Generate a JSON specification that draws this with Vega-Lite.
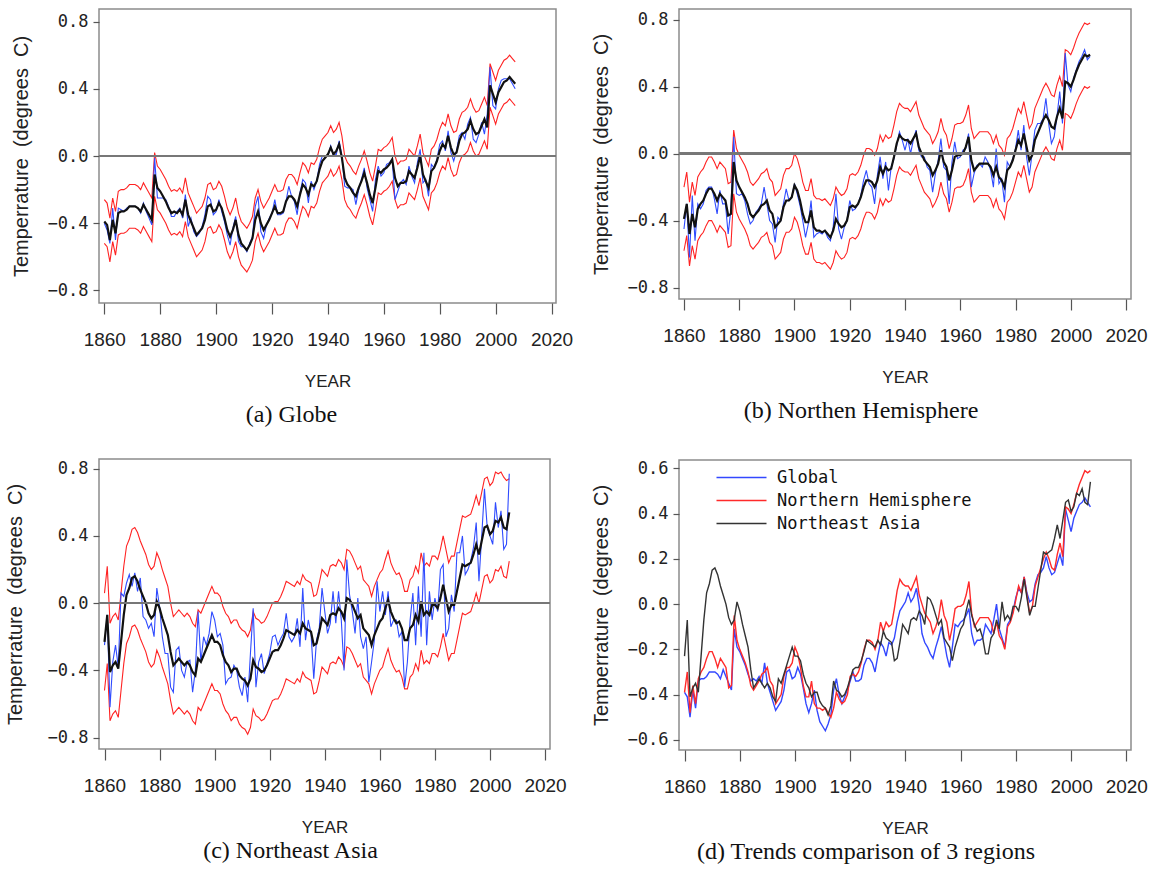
{
"$schema": "https://vega.github.io/schema/vega-lite/v6.json",
"background": "white",
"padding": {"left": 4, "top": 8, "right": 5, "bottom": 5},
"config": {
 "view": {"stroke": "#8c8c8c", "strokeWidth": 1.5},
 "font": "Liberation Sans",
 "axis": {"grid": false, "domain": false, "tickColor": "#555", "tickWidth": 1.2, "labelColor": "#222", "titleColor": "#222", "titleFontWeight": "normal", "labelOverlap": false, "labelFlush": false},
 "axisX": {"labelFont": "Liberation Sans", "labelFontSize": 19, "labelPadding": 16, "titleFont": "Liberation Sans Narrow, Liberation Sans", "titleFontSize": 17, "titlePadding": 24},
 "axisY": {"labelFont": "DejaVu Sans Mono", "labelFontSize": 17, "labelPadding": 5, "titleFont": "Liberation Sans", "titleFontSize": 20, "titlePadding": 16},
 "title": {"orient": "bottom", "font": "Liberation Serif", "fontSize": 24, "fontWeight": "normal", "color": "#111", "anchor": "middle", "frame": "group"}
},
"datasets": {
"a": [
{"year":1860,"obs":-0.40,"fit":-0.39,"hi":-0.26,"lo":-0.52},
{"year":1861,"obs":-0.44,"fit":-0.41,"hi":-0.28,"lo":-0.54},
{"year":1862,"obs":-0.52,"fit":-0.50,"hi":-0.37,"lo":-0.63},
{"year":1863,"obs":-0.31,"fit":-0.38,"hi":-0.25,"lo":-0.51},
{"year":1864,"obs":-0.50,"fit":-0.46,"hi":-0.33,"lo":-0.59},
{"year":1865,"obs":-0.31,"fit":-0.34,"hi":-0.21,"lo":-0.47},
{"year":1866,"obs":-0.32,"fit":-0.33,"hi":-0.20,"lo":-0.46},
{"year":1867,"obs":-0.33,"fit":-0.33,"hi":-0.20,"lo":-0.46},
{"year":1868,"obs":-0.31,"fit":-0.32,"hi":-0.19,"lo":-0.45},
{"year":1869,"obs":-0.30,"fit":-0.30,"hi":-0.17,"lo":-0.43},
{"year":1870,"obs":-0.30,"fit":-0.30,"hi":-0.17,"lo":-0.43},
{"year":1871,"obs":-0.30,"fit":-0.30,"hi":-0.17,"lo":-0.43},
{"year":1872,"obs":-0.31,"fit":-0.31,"hi":-0.18,"lo":-0.44},
{"year":1873,"obs":-0.34,"fit":-0.33,"hi":-0.20,"lo":-0.46},
{"year":1874,"obs":-0.28,"fit":-0.29,"hi":-0.16,"lo":-0.42},
{"year":1875,"obs":-0.33,"fit":-0.32,"hi":-0.19,"lo":-0.45},
{"year":1876,"obs":-0.37,"fit":-0.35,"hi":-0.22,"lo":-0.48},
{"year":1877,"obs":-0.41,"fit":-0.38,"hi":-0.25,"lo":-0.51},
{"year":1878,"obs":-0.01,"fit":-0.11,"hi":0.02,"lo":-0.24},
{"year":1879,"obs":-0.25,"fit":-0.19,"hi":-0.06,"lo":-0.32},
{"year":1880,"obs":-0.25,"fit":-0.21,"hi":-0.08,"lo":-0.34},
{"year":1881,"obs":-0.25,"fit":-0.24,"hi":-0.11,"lo":-0.37},
{"year":1882,"obs":-0.26,"fit":-0.27,"hi":-0.14,"lo":-0.40},
{"year":1883,"obs":-0.30,"fit":-0.31,"hi":-0.18,"lo":-0.44},
{"year":1884,"obs":-0.36,"fit":-0.34,"hi":-0.21,"lo":-0.47},
{"year":1885,"obs":-0.36,"fit":-0.33,"hi":-0.20,"lo":-0.46},
{"year":1886,"obs":-0.33,"fit":-0.34,"hi":-0.21,"lo":-0.47},
{"year":1887,"obs":-0.31,"fit":-0.32,"hi":-0.19,"lo":-0.45},
{"year":1888,"obs":-0.37,"fit":-0.35,"hi":-0.22,"lo":-0.48},
{"year":1889,"obs":-0.23,"fit":-0.26,"hi":-0.13,"lo":-0.39},
{"year":1890,"obs":-0.42,"fit":-0.35,"hi":-0.22,"lo":-0.48},
{"year":1891,"obs":-0.37,"fit":-0.39,"hi":-0.26,"lo":-0.52},
{"year":1892,"obs":-0.45,"fit":-0.43,"hi":-0.30,"lo":-0.56},
{"year":1893,"obs":-0.48,"fit":-0.47,"hi":-0.34,"lo":-0.60},
{"year":1894,"obs":-0.46,"fit":-0.45,"hi":-0.32,"lo":-0.58},
{"year":1895,"obs":-0.42,"fit":-0.43,"hi":-0.30,"lo":-0.56},
{"year":1896,"obs":-0.35,"fit":-0.38,"hi":-0.25,"lo":-0.51},
{"year":1897,"obs":-0.24,"fit":-0.30,"hi":-0.17,"lo":-0.43},
{"year":1898,"obs":-0.26,"fit":-0.29,"hi":-0.16,"lo":-0.42},
{"year":1899,"obs":-0.35,"fit":-0.33,"hi":-0.20,"lo":-0.46},
{"year":1900,"obs":-0.33,"fit":-0.32,"hi":-0.19,"lo":-0.45},
{"year":1901,"obs":-0.26,"fit":-0.28,"hi":-0.15,"lo":-0.41},
{"year":1902,"obs":-0.33,"fit":-0.31,"hi":-0.18,"lo":-0.44},
{"year":1903,"obs":-0.39,"fit":-0.37,"hi":-0.24,"lo":-0.50},
{"year":1904,"obs":-0.47,"fit":-0.44,"hi":-0.31,"lo":-0.57},
{"year":1905,"obs":-0.53,"fit":-0.48,"hi":-0.35,"lo":-0.61},
{"year":1906,"obs":-0.43,"fit":-0.44,"hi":-0.31,"lo":-0.57},
{"year":1907,"obs":-0.36,"fit":-0.38,"hi":-0.25,"lo":-0.51},
{"year":1908,"obs":-0.51,"fit":-0.47,"hi":-0.34,"lo":-0.60},
{"year":1909,"obs":-0.54,"fit":-0.52,"hi":-0.39,"lo":-0.65},
{"year":1910,"obs":-0.54,"fit":-0.54,"hi":-0.41,"lo":-0.67},
{"year":1911,"obs":-0.57,"fit":-0.56,"hi":-0.43,"lo":-0.69},
{"year":1912,"obs":-0.52,"fit":-0.53,"hi":-0.40,"lo":-0.66},
{"year":1913,"obs":-0.48,"fit":-0.49,"hi":-0.36,"lo":-0.62},
{"year":1914,"obs":-0.30,"fit":-0.38,"hi":-0.25,"lo":-0.51},
{"year":1915,"obs":-0.24,"fit":-0.33,"hi":-0.20,"lo":-0.46},
{"year":1916,"obs":-0.45,"fit":-0.40,"hi":-0.27,"lo":-0.53},
{"year":1917,"obs":-0.49,"fit":-0.44,"hi":-0.31,"lo":-0.57},
{"year":1918,"obs":-0.41,"fit":-0.41,"hi":-0.28,"lo":-0.54},
{"year":1919,"obs":-0.37,"fit":-0.38,"hi":-0.25,"lo":-0.51},
{"year":1920,"obs":-0.34,"fit":-0.34,"hi":-0.21,"lo":-0.47},
{"year":1921,"obs":-0.26,"fit":-0.30,"hi":-0.17,"lo":-0.43},
{"year":1922,"obs":-0.35,"fit":-0.34,"hi":-0.21,"lo":-0.47},
{"year":1923,"obs":-0.35,"fit":-0.34,"hi":-0.21,"lo":-0.47},
{"year":1924,"obs":-0.34,"fit":-0.33,"hi":-0.20,"lo":-0.46},
{"year":1925,"obs":-0.27,"fit":-0.27,"hi":-0.14,"lo":-0.40},
{"year":1926,"obs":-0.18,"fit":-0.24,"hi":-0.11,"lo":-0.37},
{"year":1927,"obs":-0.24,"fit":-0.24,"hi":-0.11,"lo":-0.37},
{"year":1928,"obs":-0.27,"fit":-0.26,"hi":-0.13,"lo":-0.39},
{"year":1929,"obs":-0.35,"fit":-0.30,"hi":-0.17,"lo":-0.43},
{"year":1930,"obs":-0.22,"fit":-0.23,"hi":-0.10,"lo":-0.36},
{"year":1931,"obs":-0.14,"fit":-0.17,"hi":-0.04,"lo":-0.30},
{"year":1932,"obs":-0.16,"fit":-0.19,"hi":-0.06,"lo":-0.32},
{"year":1933,"obs":-0.28,"fit":-0.23,"hi":-0.10,"lo":-0.36},
{"year":1934,"obs":-0.15,"fit":-0.17,"hi":-0.04,"lo":-0.30},
{"year":1935,"obs":-0.20,"fit":-0.18,"hi":-0.05,"lo":-0.31},
{"year":1936,"obs":-0.15,"fit":-0.15,"hi":-0.02,"lo":-0.28},
{"year":1937,"obs":-0.05,"fit":-0.08,"hi":0.05,"lo":-0.21},
{"year":1938,"obs":0.00,"fit":-0.03,"hi":0.10,"lo":-0.16},
{"year":1939,"obs":0.00,"fit":-0.01,"hi":0.12,"lo":-0.14},
{"year":1940,"obs":0.00,"fit":0.01,"hi":0.14,"lo":-0.12},
{"year":1941,"obs":0.06,"fit":0.05,"hi":0.18,"lo":-0.08},
{"year":1942,"obs":0.00,"fit":0.01,"hi":0.14,"lo":-0.12},
{"year":1943,"obs":0.01,"fit":0.03,"hi":0.16,"lo":-0.10},
{"year":1944,"obs":0.09,"fit":0.07,"hi":0.20,"lo":-0.06},
{"year":1945,"obs":0.00,"fit":-0.01,"hi":0.12,"lo":-0.14},
{"year":1946,"obs":-0.18,"fit":-0.13,"hi":0.00,"lo":-0.26},
{"year":1947,"obs":-0.19,"fit":-0.17,"hi":-0.04,"lo":-0.30},
{"year":1948,"obs":-0.19,"fit":-0.19,"hi":-0.06,"lo":-0.32},
{"year":1949,"obs":-0.20,"fit":-0.22,"hi":-0.09,"lo":-0.35},
{"year":1950,"obs":-0.29,"fit":-0.24,"hi":-0.11,"lo":-0.37},
{"year":1951,"obs":-0.20,"fit":-0.19,"hi":-0.06,"lo":-0.32},
{"year":1952,"obs":-0.14,"fit":-0.15,"hi":-0.02,"lo":-0.28},
{"year":1953,"obs":-0.07,"fit":-0.10,"hi":0.03,"lo":-0.23},
{"year":1954,"obs":-0.19,"fit":-0.16,"hi":-0.03,"lo":-0.29},
{"year":1955,"obs":-0.26,"fit":-0.23,"hi":-0.10,"lo":-0.36},
{"year":1956,"obs":-0.33,"fit":-0.28,"hi":-0.15,"lo":-0.41},
{"year":1957,"obs":-0.14,"fit":-0.19,"hi":-0.06,"lo":-0.32},
{"year":1958,"obs":-0.06,"fit":-0.09,"hi":0.04,"lo":-0.22},
{"year":1959,"obs":-0.12,"fit":-0.10,"hi":0.03,"lo":-0.23},
{"year":1960,"obs":-0.10,"fit":-0.08,"hi":0.05,"lo":-0.21},
{"year":1961,"obs":-0.05,"fit":-0.07,"hi":0.06,"lo":-0.20},
{"year":1962,"obs":-0.04,"fit":-0.05,"hi":0.08,"lo":-0.18},
{"year":1963,"obs":-0.02,"fit":-0.02,"hi":0.11,"lo":-0.15},
{"year":1964,"obs":-0.26,"fit":-0.13,"hi":0.00,"lo":-0.26},
{"year":1965,"obs":-0.21,"fit":-0.18,"hi":-0.05,"lo":-0.31},
{"year":1966,"obs":-0.16,"fit":-0.16,"hi":-0.03,"lo":-0.29},
{"year":1967,"obs":-0.14,"fit":-0.16,"hi":-0.03,"lo":-0.29},
{"year":1968,"obs":-0.17,"fit":-0.15,"hi":-0.02,"lo":-0.28},
{"year":1969,"obs":-0.06,"fit":-0.09,"hi":0.04,"lo":-0.22},
{"year":1970,"obs":-0.12,"fit":-0.11,"hi":0.02,"lo":-0.24},
{"year":1971,"obs":-0.16,"fit":-0.13,"hi":0.00,"lo":-0.26},
{"year":1972,"obs":-0.04,"fit":-0.07,"hi":0.06,"lo":-0.20},
{"year":1973,"obs":0.04,"fit":0.00,"hi":0.13,"lo":-0.13},
{"year":1974,"obs":-0.16,"fit":-0.11,"hi":0.02,"lo":-0.24},
{"year":1975,"obs":-0.14,"fit":-0.15,"hi":-0.02,"lo":-0.28},
{"year":1976,"obs":-0.24,"fit":-0.19,"hi":-0.06,"lo":-0.32},
{"year":1977,"obs":-0.05,"fit":-0.09,"hi":0.04,"lo":-0.22},
{"year":1978,"obs":-0.07,"fit":-0.07,"hi":0.06,"lo":-0.20},
{"year":1979,"obs":-0.02,"fit":-0.03,"hi":0.10,"lo":-0.16},
{"year":1980,"obs":0.07,"fit":0.03,"hi":0.16,"lo":-0.10},
{"year":1981,"obs":0.09,"fit":0.07,"hi":0.20,"lo":-0.06},
{"year":1982,"obs":0.03,"fit":0.05,"hi":0.18,"lo":-0.08},
{"year":1983,"obs":0.15,"fit":0.12,"hi":0.25,"lo":-0.01},
{"year":1984,"obs":0.02,"fit":0.05,"hi":0.18,"lo":-0.08},
{"year":1985,"obs":-0.03,"fit":0.01,"hi":0.14,"lo":-0.12},
{"year":1986,"obs":0.03,"fit":0.02,"hi":0.15,"lo":-0.11},
{"year":1987,"obs":0.12,"fit":0.09,"hi":0.22,"lo":-0.04},
{"year":1988,"obs":0.14,"fit":0.13,"hi":0.26,"lo":0.00},
{"year":1989,"obs":0.10,"fit":0.14,"hi":0.27,"lo":0.01},
{"year":1990,"obs":0.19,"fit":0.16,"hi":0.29,"lo":0.03},
{"year":1991,"obs":0.23,"fit":0.21,"hi":0.34,"lo":0.08},
{"year":1992,"obs":0.10,"fit":0.16,"hi":0.29,"lo":0.03},
{"year":1993,"obs":0.08,"fit":0.13,"hi":0.26,"lo":0.00},
{"year":1994,"obs":0.13,"fit":0.14,"hi":0.27,"lo":0.01},
{"year":1995,"obs":0.20,"fit":0.18,"hi":0.31,"lo":0.05},
{"year":1996,"obs":0.13,"fit":0.22,"hi":0.35,"lo":0.09},
{"year":1997,"obs":0.25,"fit":0.17,"hi":0.30,"lo":0.04},
{"year":1998,"obs":0.53,"fit":0.42,"hi":0.55,"lo":0.29},
{"year":1999,"obs":0.30,"fit":0.37,"hi":0.50,"lo":0.24},
{"year":2000,"obs":0.28,"fit":0.32,"hi":0.45,"lo":0.19},
{"year":2001,"obs":0.40,"fit":0.38,"hi":0.51,"lo":0.25},
{"year":2002,"obs":0.45,"fit":0.41,"hi":0.54,"lo":0.28},
{"year":2003,"obs":0.46,"fit":0.44,"hi":0.57,"lo":0.31},
{"year":2004,"obs":0.46,"fit":0.45,"hi":0.58,"lo":0.32},
{"year":2005,"obs":0.46,"fit":0.47,"hi":0.60,"lo":0.34},
{"year":2006,"obs":0.43,"fit":0.45,"hi":0.58,"lo":0.32},
{"year":2007,"obs":0.40,"fit":0.43,"hi":0.56,"lo":0.30}
],
"b": [
{"year":1860,"obs":-0.45,"fit":-0.39,"hi":-0.20,"lo":-0.58},
{"year":1861,"obs":-0.30,"fit":-0.30,"hi":-0.11,"lo":-0.49},
{"year":1862,"obs":-0.62,"fit":-0.48,"hi":-0.29,"lo":-0.67},
{"year":1863,"obs":-0.25,"fit":-0.36,"hi":-0.17,"lo":-0.55},
{"year":1864,"obs":-0.52,"fit":-0.44,"hi":-0.25,"lo":-0.63},
{"year":1865,"obs":-0.30,"fit":-0.33,"hi":-0.14,"lo":-0.52},
{"year":1866,"obs":-0.33,"fit":-0.30,"hi":-0.11,"lo":-0.49},
{"year":1867,"obs":-0.30,"fit":-0.28,"hi":-0.09,"lo":-0.47},
{"year":1868,"obs":-0.22,"fit":-0.24,"hi":-0.05,"lo":-0.43},
{"year":1869,"obs":-0.20,"fit":-0.21,"hi":-0.02,"lo":-0.40},
{"year":1870,"obs":-0.20,"fit":-0.21,"hi":-0.02,"lo":-0.40},
{"year":1871,"obs":-0.27,"fit":-0.24,"hi":-0.05,"lo":-0.43},
{"year":1872,"obs":-0.36,"fit":-0.28,"hi":-0.09,"lo":-0.47},
{"year":1873,"obs":-0.22,"fit":-0.24,"hi":-0.05,"lo":-0.43},
{"year":1874,"obs":-0.30,"fit":-0.26,"hi":-0.07,"lo":-0.45},
{"year":1875,"obs":-0.30,"fit":-0.28,"hi":-0.09,"lo":-0.47},
{"year":1876,"obs":-0.48,"fit":-0.37,"hi":-0.18,"lo":-0.56},
{"year":1877,"obs":-0.33,"fit":-0.36,"hi":-0.17,"lo":-0.55},
{"year":1878,"obs":0.10,"fit":-0.05,"hi":0.14,"lo":-0.24},
{"year":1879,"obs":-0.24,"fit":-0.16,"hi":0.03,"lo":-0.35},
{"year":1880,"obs":-0.25,"fit":-0.20,"hi":-0.01,"lo":-0.39},
{"year":1881,"obs":-0.24,"fit":-0.23,"hi":-0.04,"lo":-0.42},
{"year":1882,"obs":-0.28,"fit":-0.26,"hi":-0.07,"lo":-0.45},
{"year":1883,"obs":-0.36,"fit":-0.30,"hi":-0.11,"lo":-0.49},
{"year":1884,"obs":-0.42,"fit":-0.36,"hi":-0.17,"lo":-0.55},
{"year":1885,"obs":-0.40,"fit":-0.38,"hi":-0.19,"lo":-0.57},
{"year":1886,"obs":-0.35,"fit":-0.36,"hi":-0.17,"lo":-0.55},
{"year":1887,"obs":-0.33,"fit":-0.34,"hi":-0.15,"lo":-0.53},
{"year":1888,"obs":-0.30,"fit":-0.31,"hi":-0.12,"lo":-0.50},
{"year":1889,"obs":-0.20,"fit":-0.30,"hi":-0.11,"lo":-0.49},
{"year":1890,"obs":-0.30,"fit":-0.28,"hi":-0.09,"lo":-0.47},
{"year":1891,"obs":-0.40,"fit":-0.34,"hi":-0.15,"lo":-0.53},
{"year":1892,"obs":-0.42,"fit":-0.36,"hi":-0.17,"lo":-0.55},
{"year":1893,"obs":-0.53,"fit":-0.44,"hi":-0.25,"lo":-0.63},
{"year":1894,"obs":-0.38,"fit":-0.42,"hi":-0.23,"lo":-0.61},
{"year":1895,"obs":-0.40,"fit":-0.40,"hi":-0.21,"lo":-0.59},
{"year":1896,"obs":-0.30,"fit":-0.32,"hi":-0.13,"lo":-0.51},
{"year":1897,"obs":-0.21,"fit":-0.28,"hi":-0.09,"lo":-0.47},
{"year":1898,"obs":-0.28,"fit":-0.28,"hi":-0.09,"lo":-0.47},
{"year":1899,"obs":-0.26,"fit":-0.26,"hi":-0.07,"lo":-0.45},
{"year":1900,"obs":-0.18,"fit":-0.19,"hi":0.00,"lo":-0.38},
{"year":1901,"obs":-0.24,"fit":-0.22,"hi":-0.03,"lo":-0.41},
{"year":1902,"obs":-0.31,"fit":-0.28,"hi":-0.09,"lo":-0.47},
{"year":1903,"obs":-0.40,"fit":-0.36,"hi":-0.17,"lo":-0.55},
{"year":1904,"obs":-0.50,"fit":-0.41,"hi":-0.22,"lo":-0.60},
{"year":1905,"obs":-0.42,"fit":-0.41,"hi":-0.22,"lo":-0.60},
{"year":1906,"obs":-0.28,"fit":-0.34,"hi":-0.15,"lo":-0.53},
{"year":1907,"obs":-0.50,"fit":-0.44,"hi":-0.25,"lo":-0.63},
{"year":1908,"obs":-0.48,"fit":-0.46,"hi":-0.27,"lo":-0.65},
{"year":1909,"obs":-0.47,"fit":-0.46,"hi":-0.27,"lo":-0.65},
{"year":1910,"obs":-0.48,"fit":-0.47,"hi":-0.28,"lo":-0.66},
{"year":1911,"obs":-0.46,"fit":-0.46,"hi":-0.27,"lo":-0.65},
{"year":1912,"obs":-0.50,"fit":-0.48,"hi":-0.29,"lo":-0.67},
{"year":1913,"obs":-0.52,"fit":-0.50,"hi":-0.31,"lo":-0.69},
{"year":1914,"obs":-0.44,"fit":-0.46,"hi":-0.27,"lo":-0.65},
{"year":1915,"obs":-0.24,"fit":-0.39,"hi":-0.20,"lo":-0.58},
{"year":1916,"obs":-0.45,"fit":-0.42,"hi":-0.23,"lo":-0.61},
{"year":1917,"obs":-0.51,"fit":-0.44,"hi":-0.25,"lo":-0.63},
{"year":1918,"obs":-0.44,"fit":-0.43,"hi":-0.24,"lo":-0.62},
{"year":1919,"obs":-0.40,"fit":-0.40,"hi":-0.21,"lo":-0.59},
{"year":1920,"obs":-0.28,"fit":-0.32,"hi":-0.13,"lo":-0.51},
{"year":1921,"obs":-0.34,"fit":-0.31,"hi":-0.12,"lo":-0.50},
{"year":1922,"obs":-0.33,"fit":-0.32,"hi":-0.13,"lo":-0.51},
{"year":1923,"obs":-0.30,"fit":-0.30,"hi":-0.11,"lo":-0.49},
{"year":1924,"obs":-0.25,"fit":-0.26,"hi":-0.07,"lo":-0.45},
{"year":1925,"obs":-0.16,"fit":-0.20,"hi":-0.01,"lo":-0.39},
{"year":1926,"obs":-0.10,"fit":-0.16,"hi":0.03,"lo":-0.35},
{"year":1927,"obs":-0.18,"fit":-0.16,"hi":0.03,"lo":-0.35},
{"year":1928,"obs":-0.20,"fit":-0.17,"hi":0.02,"lo":-0.36},
{"year":1929,"obs":-0.30,"fit":-0.20,"hi":-0.01,"lo":-0.39},
{"year":1930,"obs":-0.13,"fit":-0.16,"hi":0.03,"lo":-0.35},
{"year":1931,"obs":-0.02,"fit":-0.08,"hi":0.11,"lo":-0.27},
{"year":1932,"obs":-0.15,"fit":-0.12,"hi":0.07,"lo":-0.31},
{"year":1933,"obs":-0.05,"fit":-0.08,"hi":0.11,"lo":-0.27},
{"year":1934,"obs":-0.22,"fit":-0.10,"hi":0.09,"lo":-0.29},
{"year":1935,"obs":-0.08,"fit":-0.09,"hi":0.10,"lo":-0.28},
{"year":1936,"obs":-0.03,"fit":-0.02,"hi":0.17,"lo":-0.21},
{"year":1937,"obs":0.05,"fit":0.06,"hi":0.25,"lo":-0.13},
{"year":1938,"obs":0.13,"fit":0.11,"hi":0.30,"lo":-0.08},
{"year":1939,"obs":0.08,"fit":0.09,"hi":0.28,"lo":-0.10},
{"year":1940,"obs":0.02,"fit":0.08,"hi":0.27,"lo":-0.11},
{"year":1941,"obs":0.09,"fit":0.08,"hi":0.27,"lo":-0.11},
{"year":1942,"obs":0.00,"fit":0.06,"hi":0.25,"lo":-0.13},
{"year":1943,"obs":0.08,"fit":0.09,"hi":0.28,"lo":-0.10},
{"year":1944,"obs":0.14,"fit":0.12,"hi":0.31,"lo":-0.07},
{"year":1945,"obs":0.02,"fit":0.04,"hi":0.23,"lo":-0.15},
{"year":1946,"obs":-0.02,"fit":0.00,"hi":0.19,"lo":-0.19},
{"year":1947,"obs":-0.02,"fit":-0.04,"hi":0.15,"lo":-0.23},
{"year":1948,"obs":-0.08,"fit":-0.06,"hi":0.13,"lo":-0.25},
{"year":1949,"obs":-0.10,"fit":-0.08,"hi":0.11,"lo":-0.27},
{"year":1950,"obs":-0.23,"fit":-0.13,"hi":0.06,"lo":-0.32},
{"year":1951,"obs":-0.12,"fit":-0.10,"hi":0.09,"lo":-0.29},
{"year":1952,"obs":-0.04,"fit":-0.06,"hi":0.13,"lo":-0.25},
{"year":1953,"obs":0.09,"fit":0.02,"hi":0.21,"lo":-0.17},
{"year":1954,"obs":-0.08,"fit":-0.05,"hi":0.14,"lo":-0.24},
{"year":1955,"obs":-0.10,"fit":-0.08,"hi":0.11,"lo":-0.27},
{"year":1956,"obs":-0.30,"fit":-0.16,"hi":0.03,"lo":-0.35},
{"year":1957,"obs":-0.05,"fit":-0.10,"hi":0.09,"lo":-0.29},
{"year":1958,"obs":0.07,"fit":-0.02,"hi":0.17,"lo":-0.21},
{"year":1959,"obs":-0.03,"fit":-0.01,"hi":0.18,"lo":-0.20},
{"year":1960,"obs":-0.02,"fit":-0.01,"hi":0.18,"lo":-0.20},
{"year":1961,"obs":0.02,"fit":0.00,"hi":0.19,"lo":-0.19},
{"year":1962,"obs":0.03,"fit":0.04,"hi":0.23,"lo":-0.15},
{"year":1963,"obs":0.12,"fit":0.10,"hi":0.29,"lo":-0.09},
{"year":1964,"obs":-0.20,"fit":-0.04,"hi":0.15,"lo":-0.23},
{"year":1965,"obs":-0.12,"fit":-0.10,"hi":0.09,"lo":-0.29},
{"year":1966,"obs":-0.07,"fit":-0.08,"hi":0.11,"lo":-0.27},
{"year":1967,"obs":-0.06,"fit":-0.06,"hi":0.13,"lo":-0.25},
{"year":1968,"obs":-0.08,"fit":-0.06,"hi":0.13,"lo":-0.25},
{"year":1969,"obs":-0.02,"fit":-0.06,"hi":0.13,"lo":-0.25},
{"year":1970,"obs":-0.05,"fit":-0.06,"hi":0.13,"lo":-0.25},
{"year":1971,"obs":-0.10,"fit":-0.08,"hi":0.11,"lo":-0.27},
{"year":1972,"obs":-0.20,"fit":-0.13,"hi":0.06,"lo":-0.32},
{"year":1973,"obs":0.03,"fit":-0.08,"hi":0.11,"lo":-0.27},
{"year":1974,"obs":-0.18,"fit":-0.14,"hi":0.05,"lo":-0.33},
{"year":1975,"obs":-0.15,"fit":-0.16,"hi":0.03,"lo":-0.35},
{"year":1976,"obs":-0.29,"fit":-0.20,"hi":-0.01,"lo":-0.39},
{"year":1977,"obs":-0.05,"fit":-0.10,"hi":0.09,"lo":-0.29},
{"year":1978,"obs":-0.08,"fit":-0.08,"hi":0.11,"lo":-0.27},
{"year":1979,"obs":-0.03,"fit":-0.04,"hi":0.15,"lo":-0.23},
{"year":1980,"obs":0.03,"fit":0.02,"hi":0.21,"lo":-0.17},
{"year":1981,"obs":0.14,"fit":0.08,"hi":0.27,"lo":-0.11},
{"year":1982,"obs":0.02,"fit":0.05,"hi":0.24,"lo":-0.14},
{"year":1983,"obs":0.17,"fit":0.12,"hi":0.31,"lo":-0.07},
{"year":1984,"obs":-0.02,"fit":0.04,"hi":0.23,"lo":-0.15},
{"year":1985,"obs":-0.13,"fit":-0.04,"hi":0.15,"lo":-0.23},
{"year":1986,"obs":0.00,"fit":-0.01,"hi":0.18,"lo":-0.20},
{"year":1987,"obs":0.14,"fit":0.08,"hi":0.27,"lo":-0.11},
{"year":1988,"obs":0.18,"fit":0.12,"hi":0.31,"lo":-0.07},
{"year":1989,"obs":0.18,"fit":0.16,"hi":0.35,"lo":-0.03},
{"year":1990,"obs":0.21,"fit":0.20,"hi":0.39,"lo":0.01},
{"year":1991,"obs":0.33,"fit":0.23,"hi":0.42,"lo":0.04},
{"year":1992,"obs":0.18,"fit":0.20,"hi":0.39,"lo":0.01},
{"year":1993,"obs":0.06,"fit":0.16,"hi":0.35,"lo":-0.03},
{"year":1994,"obs":0.10,"fit":0.15,"hi":0.34,"lo":-0.04},
{"year":1995,"obs":0.22,"fit":0.22,"hi":0.41,"lo":0.03},
{"year":1996,"obs":0.37,"fit":0.27,"hi":0.46,"lo":0.08},
{"year":1997,"obs":0.18,"fit":0.21,"hi":0.40,"lo":0.02},
{"year":1998,"obs":0.60,"fit":0.43,"hi":0.62,"lo":0.24},
{"year":1999,"obs":0.41,"fit":0.42,"hi":0.61,"lo":0.23},
{"year":2000,"obs":0.37,"fit":0.40,"hi":0.59,"lo":0.21},
{"year":2001,"obs":0.45,"fit":0.44,"hi":0.63,"lo":0.25},
{"year":2002,"obs":0.50,"fit":0.49,"hi":0.68,"lo":0.30},
{"year":2003,"obs":0.55,"fit":0.53,"hi":0.72,"lo":0.34},
{"year":2004,"obs":0.58,"fit":0.56,"hi":0.75,"lo":0.37},
{"year":2005,"obs":0.62,"fit":0.59,"hi":0.78,"lo":0.40},
{"year":2006,"obs":0.56,"fit":0.58,"hi":0.77,"lo":0.39},
{"year":2007,"obs":0.58,"fit":0.59,"hi":0.78,"lo":0.40}
],
"c": [
{"year":1860,"obs":-0.25,"fit":-0.23,"hi":0.06,"lo":-0.52},
{"year":1861,"obs":-0.07,"fit":-0.07,"hi":0.22,"lo":-0.36},
{"year":1862,"obs":-0.62,"fit":-0.41,"hi":-0.12,"lo":-0.70},
{"year":1863,"obs":-0.35,"fit":-0.37,"hi":-0.08,"lo":-0.66},
{"year":1864,"obs":-0.25,"fit":-0.35,"hi":-0.06,"lo":-0.64},
{"year":1865,"obs":-0.38,"fit":-0.39,"hi":-0.10,"lo":-0.68},
{"year":1866,"obs":0.06,"fit":-0.23,"hi":0.06,"lo":-0.52},
{"year":1867,"obs":0.04,"fit":-0.07,"hi":0.22,"lo":-0.36},
{"year":1868,"obs":0.12,"fit":0.05,"hi":0.34,"lo":-0.24},
{"year":1869,"obs":0.17,"fit":0.09,"hi":0.38,"lo":-0.20},
{"year":1870,"obs":0.10,"fit":0.15,"hi":0.44,"lo":-0.14},
{"year":1871,"obs":0.18,"fit":0.16,"hi":0.45,"lo":-0.13},
{"year":1872,"obs":0.07,"fit":0.13,"hi":0.42,"lo":-0.16},
{"year":1873,"obs":0.15,"fit":0.08,"hi":0.37,"lo":-0.21},
{"year":1874,"obs":-0.08,"fit":0.04,"hi":0.33,"lo":-0.25},
{"year":1875,"obs":-0.10,"fit":0.00,"hi":0.29,"lo":-0.29},
{"year":1876,"obs":-0.15,"fit":-0.06,"hi":0.23,"lo":-0.35},
{"year":1877,"obs":-0.12,"fit":-0.09,"hi":0.20,"lo":-0.38},
{"year":1878,"obs":-0.20,"fit":-0.07,"hi":0.22,"lo":-0.36},
{"year":1879,"obs":0.09,"fit":0.01,"hi":0.30,"lo":-0.28},
{"year":1880,"obs":-0.02,"fit":-0.03,"hi":0.26,"lo":-0.32},
{"year":1881,"obs":-0.20,"fit":-0.09,"hi":0.20,"lo":-0.38},
{"year":1882,"obs":-0.30,"fit":-0.14,"hi":0.15,"lo":-0.43},
{"year":1883,"obs":-0.30,"fit":-0.19,"hi":0.10,"lo":-0.48},
{"year":1884,"obs":-0.50,"fit":-0.29,"hi":0.00,"lo":-0.58},
{"year":1885,"obs":-0.53,"fit":-0.37,"hi":-0.08,"lo":-0.66},
{"year":1886,"obs":-0.28,"fit":-0.35,"hi":-0.06,"lo":-0.64},
{"year":1887,"obs":-0.26,"fit":-0.33,"hi":-0.04,"lo":-0.62},
{"year":1888,"obs":-0.40,"fit":-0.35,"hi":-0.06,"lo":-0.64},
{"year":1889,"obs":-0.44,"fit":-0.37,"hi":-0.08,"lo":-0.66},
{"year":1890,"obs":-0.35,"fit":-0.35,"hi":-0.06,"lo":-0.64},
{"year":1891,"obs":-0.34,"fit":-0.37,"hi":-0.08,"lo":-0.66},
{"year":1892,"obs":-0.53,"fit":-0.41,"hi":-0.12,"lo":-0.70},
{"year":1893,"obs":-0.40,"fit":-0.43,"hi":-0.14,"lo":-0.72},
{"year":1894,"obs":-0.05,"fit":-0.33,"hi":-0.04,"lo":-0.62},
{"year":1895,"obs":-0.35,"fit":-0.35,"hi":-0.06,"lo":-0.64},
{"year":1896,"obs":-0.20,"fit":-0.31,"hi":-0.02,"lo":-0.60},
{"year":1897,"obs":-0.25,"fit":-0.27,"hi":0.02,"lo":-0.56},
{"year":1898,"obs":-0.18,"fit":-0.23,"hi":0.06,"lo":-0.52},
{"year":1899,"obs":-0.05,"fit":-0.19,"hi":0.10,"lo":-0.48},
{"year":1900,"obs":-0.10,"fit":-0.23,"hi":0.06,"lo":-0.52},
{"year":1901,"obs":-0.20,"fit":-0.23,"hi":0.06,"lo":-0.52},
{"year":1902,"obs":-0.18,"fit":-0.25,"hi":0.04,"lo":-0.54},
{"year":1903,"obs":-0.25,"fit":-0.31,"hi":-0.02,"lo":-0.60},
{"year":1904,"obs":-0.48,"fit":-0.35,"hi":-0.06,"lo":-0.64},
{"year":1905,"obs":-0.45,"fit":-0.37,"hi":-0.08,"lo":-0.66},
{"year":1906,"obs":-0.44,"fit":-0.41,"hi":-0.12,"lo":-0.70},
{"year":1907,"obs":-0.37,"fit":-0.39,"hi":-0.10,"lo":-0.68},
{"year":1908,"obs":-0.40,"fit":-0.39,"hi":-0.10,"lo":-0.68},
{"year":1909,"obs":-0.50,"fit":-0.43,"hi":-0.14,"lo":-0.72},
{"year":1910,"obs":-0.55,"fit":-0.45,"hi":-0.16,"lo":-0.74},
{"year":1911,"obs":-0.44,"fit":-0.46,"hi":-0.17,"lo":-0.75},
{"year":1912,"obs":-0.59,"fit":-0.49,"hi":-0.20,"lo":-0.78},
{"year":1913,"obs":-0.30,"fit":-0.45,"hi":-0.16,"lo":-0.74},
{"year":1914,"obs":-0.03,"fit":-0.34,"hi":-0.05,"lo":-0.63},
{"year":1915,"obs":-0.50,"fit":-0.38,"hi":-0.09,"lo":-0.67},
{"year":1916,"obs":-0.35,"fit":-0.39,"hi":-0.10,"lo":-0.68},
{"year":1917,"obs":-0.30,"fit":-0.41,"hi":-0.12,"lo":-0.70},
{"year":1918,"obs":-0.42,"fit":-0.40,"hi":-0.11,"lo":-0.69},
{"year":1919,"obs":-0.36,"fit":-0.37,"hi":-0.08,"lo":-0.66},
{"year":1920,"obs":-0.30,"fit":-0.33,"hi":-0.04,"lo":-0.62},
{"year":1921,"obs":-0.20,"fit":-0.29,"hi":0.00,"lo":-0.58},
{"year":1922,"obs":-0.19,"fit":-0.28,"hi":0.01,"lo":-0.57},
{"year":1923,"obs":-0.25,"fit":-0.28,"hi":0.01,"lo":-0.57},
{"year":1924,"obs":-0.21,"fit":-0.25,"hi":0.04,"lo":-0.54},
{"year":1925,"obs":-0.18,"fit":-0.21,"hi":0.08,"lo":-0.50},
{"year":1926,"obs":-0.06,"fit":-0.16,"hi":0.13,"lo":-0.45},
{"year":1927,"obs":-0.20,"fit":-0.17,"hi":0.12,"lo":-0.46},
{"year":1928,"obs":-0.23,"fit":-0.18,"hi":0.11,"lo":-0.47},
{"year":1929,"obs":-0.20,"fit":-0.19,"hi":0.10,"lo":-0.48},
{"year":1930,"obs":-0.09,"fit":-0.16,"hi":0.13,"lo":-0.45},
{"year":1931,"obs":-0.26,"fit":-0.18,"hi":0.11,"lo":-0.47},
{"year":1932,"obs":0.09,"fit":-0.12,"hi":0.17,"lo":-0.41},
{"year":1933,"obs":-0.22,"fit":-0.15,"hi":0.14,"lo":-0.44},
{"year":1934,"obs":-0.10,"fit":-0.16,"hi":0.13,"lo":-0.45},
{"year":1935,"obs":-0.18,"fit":-0.17,"hi":0.12,"lo":-0.46},
{"year":1936,"obs":-0.45,"fit":-0.25,"hi":0.04,"lo":-0.54},
{"year":1937,"obs":-0.22,"fit":-0.24,"hi":0.05,"lo":-0.53},
{"year":1938,"obs":-0.15,"fit":-0.17,"hi":0.12,"lo":-0.46},
{"year":1939,"obs":0.09,"fit":-0.09,"hi":0.20,"lo":-0.38},
{"year":1940,"obs":-0.05,"fit":-0.11,"hi":0.18,"lo":-0.40},
{"year":1941,"obs":-0.18,"fit":-0.13,"hi":0.16,"lo":-0.42},
{"year":1942,"obs":-0.12,"fit":-0.07,"hi":0.22,"lo":-0.36},
{"year":1943,"obs":0.07,"fit":-0.06,"hi":0.23,"lo":-0.35},
{"year":1944,"obs":-0.12,"fit":-0.07,"hi":0.22,"lo":-0.36},
{"year":1945,"obs":0.07,"fit":-0.03,"hi":0.26,"lo":-0.32},
{"year":1946,"obs":-0.10,"fit":-0.05,"hi":0.24,"lo":-0.34},
{"year":1947,"obs":-0.40,"fit":-0.09,"hi":0.20,"lo":-0.38},
{"year":1948,"obs":0.26,"fit":0.03,"hi":0.32,"lo":-0.26},
{"year":1949,"obs":0.05,"fit":0.02,"hi":0.31,"lo":-0.27},
{"year":1950,"obs":-0.05,"fit":-0.01,"hi":0.28,"lo":-0.30},
{"year":1951,"obs":-0.18,"fit":-0.05,"hi":0.24,"lo":-0.34},
{"year":1952,"obs":0.03,"fit":-0.09,"hi":0.20,"lo":-0.38},
{"year":1953,"obs":-0.20,"fit":-0.07,"hi":0.22,"lo":-0.36},
{"year":1954,"obs":-0.27,"fit":-0.15,"hi":0.14,"lo":-0.44},
{"year":1955,"obs":-0.20,"fit":-0.17,"hi":0.12,"lo":-0.46},
{"year":1956,"obs":-0.47,"fit":-0.19,"hi":0.10,"lo":-0.48},
{"year":1957,"obs":-0.35,"fit":-0.25,"hi":0.04,"lo":-0.54},
{"year":1958,"obs":-0.22,"fit":-0.19,"hi":0.10,"lo":-0.48},
{"year":1959,"obs":0.13,"fit":-0.15,"hi":0.14,"lo":-0.44},
{"year":1960,"obs":-0.05,"fit":-0.11,"hi":0.18,"lo":-0.40},
{"year":1961,"obs":0.07,"fit":-0.09,"hi":0.20,"lo":-0.38},
{"year":1962,"obs":-0.07,"fit":-0.03,"hi":0.26,"lo":-0.32},
{"year":1963,"obs":0.07,"fit":0.02,"hi":0.31,"lo":-0.27},
{"year":1964,"obs":-0.14,"fit":-0.05,"hi":0.24,"lo":-0.34},
{"year":1965,"obs":-0.10,"fit":-0.09,"hi":0.20,"lo":-0.38},
{"year":1966,"obs":-0.10,"fit":-0.12,"hi":0.17,"lo":-0.41},
{"year":1967,"obs":-0.20,"fit":-0.11,"hi":0.18,"lo":-0.40},
{"year":1968,"obs":-0.17,"fit":-0.15,"hi":0.14,"lo":-0.44},
{"year":1969,"obs":-0.50,"fit":-0.22,"hi":0.07,"lo":-0.51},
{"year":1970,"obs":-0.35,"fit":-0.22,"hi":0.07,"lo":-0.51},
{"year":1971,"obs":-0.10,"fit":-0.15,"hi":0.14,"lo":-0.44},
{"year":1972,"obs":0.06,"fit":-0.13,"hi":0.16,"lo":-0.42},
{"year":1973,"obs":-0.25,"fit":-0.07,"hi":0.22,"lo":-0.36},
{"year":1974,"obs":0.10,"fit":-0.11,"hi":0.18,"lo":-0.40},
{"year":1975,"obs":-0.20,"fit":0.01,"hi":0.30,"lo":-0.28},
{"year":1976,"obs":0.30,"fit":-0.07,"hi":0.22,"lo":-0.36},
{"year":1977,"obs":-0.25,"fit":-0.05,"hi":0.24,"lo":-0.34},
{"year":1978,"obs":0.07,"fit":-0.07,"hi":0.22,"lo":-0.36},
{"year":1979,"obs":-0.10,"fit":-0.01,"hi":0.28,"lo":-0.30},
{"year":1980,"obs":0.03,"fit":-0.01,"hi":0.28,"lo":-0.30},
{"year":1981,"obs":-0.05,"fit":-0.03,"hi":0.26,"lo":-0.32},
{"year":1982,"obs":0.20,"fit":0.03,"hi":0.32,"lo":-0.26},
{"year":1983,"obs":0.23,"fit":0.11,"hi":0.40,"lo":-0.18},
{"year":1984,"obs":-0.20,"fit":0.03,"hi":0.32,"lo":-0.26},
{"year":1985,"obs":-0.15,"fit":-0.05,"hi":0.24,"lo":-0.34},
{"year":1986,"obs":0.05,"fit":-0.01,"hi":0.28,"lo":-0.30},
{"year":1987,"obs":-0.05,"fit":-0.01,"hi":0.28,"lo":-0.30},
{"year":1988,"obs":0.30,"fit":0.07,"hi":0.36,"lo":-0.22},
{"year":1989,"obs":0.30,"fit":0.15,"hi":0.44,"lo":-0.14},
{"year":1990,"obs":0.40,"fit":0.23,"hi":0.52,"lo":-0.06},
{"year":1991,"obs":0.17,"fit":0.22,"hi":0.51,"lo":-0.07},
{"year":1992,"obs":0.20,"fit":0.23,"hi":0.52,"lo":-0.06},
{"year":1993,"obs":0.25,"fit":0.24,"hi":0.53,"lo":-0.05},
{"year":1994,"obs":0.33,"fit":0.29,"hi":0.58,"lo":0.00},
{"year":1995,"obs":0.48,"fit":0.35,"hi":0.64,"lo":0.06},
{"year":1996,"obs":0.13,"fit":0.29,"hi":0.58,"lo":0.00},
{"year":1997,"obs":0.40,"fit":0.37,"hi":0.66,"lo":0.08},
{"year":1998,"obs":0.68,"fit":0.45,"hi":0.74,"lo":0.16},
{"year":1999,"obs":0.45,"fit":0.46,"hi":0.75,"lo":0.17},
{"year":2000,"obs":0.40,"fit":0.41,"hi":0.70,"lo":0.12},
{"year":2001,"obs":0.35,"fit":0.43,"hi":0.72,"lo":0.14},
{"year":2002,"obs":0.60,"fit":0.49,"hi":0.78,"lo":0.20},
{"year":2003,"obs":0.45,"fit":0.48,"hi":0.77,"lo":0.19},
{"year":2004,"obs":0.55,"fit":0.51,"hi":0.78,"lo":0.22},
{"year":2005,"obs":0.32,"fit":0.45,"hi":0.75,"lo":0.16},
{"year":2006,"obs":0.35,"fit":0.44,"hi":0.73,"lo":0.15},
{"year":2007,"obs":0.77,"fit":0.54,"hi":0.74,"lo":0.25}
]
},
"columns": 2,
"align": "none",
"spacing": {"row": 30, "column": 16},
"concat": [
 {"width": 457, "height": 294, "data": {"name": "a"},
  "title": {"text": "(a) Globe", "dx": -36, "offset": 14},
  "layer": [
   {"mark": {"type": "line", "color": "#ff2222", "strokeWidth": 1.1},
    "encoding": {
     "x": {"field": "year", "type": "quantitative", "title": "YEAR", "scale": {"domain": [1858.1, 2021.6], "nice": false, "zero": false},
       "axis": {"values": [1860,1865,1870,1875,1880,1885,1890,1895,1900,1905,1910,1915,1920,1925,1930,1935,1940,1945,1950,1955,1960,1965,1970,1975,1980,1985,1990,1995,2000,2005,2010,2015,2020], "format": "d", "labelExpr": "datum.value % 20 == 0 ? datum.label : ''", "tickSize": {"condition": {"test": "datum.value % 20 == 0", "value": 11}, "value": 6}}},
     "y": {"field": "hi", "type": "quantitative", "title": "Temperrature \u00a0(degrees \u00a0C)", "scale": {"domain": [-0.875, 0.875], "nice": false, "zero": false},
       "axis": {"values": [-0.8,-0.7,-0.6,-0.5,-0.4,-0.3,-0.2,-0.1,0,0.1,0.2,0.3,0.4,0.5,0.6,0.7,0.8], "labelExpr": "abs(round(datum.value*10)) % 2 == 0 ? format(datum.value, '.1f') : ''", "tickSize": {"condition": {"test": "abs(round(datum.value*10)) % 2 == 0", "value": 6}, "value": 3}}}}},
   {"mark": {"type": "line", "color": "#ff2222", "strokeWidth": 1.1}, "encoding": {"x": {"field": "year", "type": "quantitative"}, "y": {"field": "lo", "type": "quantitative", "title": "Temperrature \u00a0(degrees \u00a0C)"}}},
   {"mark": {"type": "line", "color": "#2f4bff", "strokeWidth": 1.1}, "encoding": {"x": {"field": "year", "type": "quantitative"}, "y": {"field": "obs", "type": "quantitative", "title": "Temperrature \u00a0(degrees \u00a0C)"}}},
   {"mark": {"type": "line", "color": "#111111", "strokeWidth": 2.2}, "encoding": {"x": {"field": "year", "type": "quantitative"}, "y": {"field": "fit", "type": "quantitative", "title": "Temperrature \u00a0(degrees \u00a0C)"}}},
   {"mark": {"type": "rule", "color": "#777777", "strokeWidth": 1.8}, "encoding": {"y": {"datum": 0}}}
  ]},
 {"width": 452, "height": 290, "data": {"name": "b"},
  "title": {"text": "(b) Northen Hemisphere", "dx": -44, "offset": 14},
  "layer": [
   {"mark": {"type": "line", "color": "#ff2222", "strokeWidth": 1.1},
    "encoding": {
     "x": {"field": "year", "type": "quantitative", "title": "YEAR", "scale": {"domain": [1858.2, 2021.8], "nice": false, "zero": false},
       "axis": {"values": [1860,1865,1870,1875,1880,1885,1890,1895,1900,1905,1910,1915,1920,1925,1930,1935,1940,1945,1950,1955,1960,1965,1970,1975,1980,1985,1990,1995,2000,2005,2010,2015,2020], "format": "d", "labelExpr": "datum.value % 20 == 0 ? datum.label : ''", "tickSize": {"condition": {"test": "datum.value % 20 == 0", "value": 11}, "value": 6}}},
     "y": {"field": "hi", "type": "quantitative", "title": "Temperrature \u00a0(degrees \u00a0C)", "scale": {"domain": [-0.868, 0.863], "nice": false, "zero": false},
       "axis": {"values": [-0.8,-0.7,-0.6,-0.5,-0.4,-0.3,-0.2,-0.1,0,0.1,0.2,0.3,0.4,0.5,0.6,0.7,0.8], "labelExpr": "abs(round(datum.value*10)) % 2 == 0 ? format(datum.value, '.1f') : ''", "tickSize": {"condition": {"test": "abs(round(datum.value*10)) % 2 == 0", "value": 6}, "value": 3}}}}},
   {"mark": {"type": "line", "color": "#ff2222", "strokeWidth": 1.1}, "encoding": {"x": {"field": "year", "type": "quantitative"}, "y": {"field": "lo", "type": "quantitative", "title": "Temperrature \u00a0(degrees \u00a0C)"}}},
   {"mark": {"type": "line", "color": "#2f4bff", "strokeWidth": 1.1}, "encoding": {"x": {"field": "year", "type": "quantitative"}, "y": {"field": "obs", "type": "quantitative", "title": "Temperrature \u00a0(degrees \u00a0C)"}}},
   {"mark": {"type": "line", "color": "#111111", "strokeWidth": 2.2}, "encoding": {"x": {"field": "year", "type": "quantitative"}, "y": {"field": "fit", "type": "quantitative", "title": "Temperrature \u00a0(degrees \u00a0C)"}}},
   {"mark": {"type": "rule", "color": "#777777", "strokeWidth": 1.8}, "encoding": {"y": {"datum": 0}}}
  ]},
 {"width": 451, "height": 290, "data": {"name": "c"},
  "title": {"text": "(c) Northeast Asia", "dx": -34, "offset": 4},
  "layer": [
   {"mark": {"type": "line", "color": "#ff2222", "strokeWidth": 1.1},
    "encoding": {
     "x": {"field": "year", "type": "quantitative", "title": "YEAR", "scale": {"domain": [1858.0, 2021.8], "nice": false, "zero": false},
       "axis": {"values": [1860,1865,1870,1875,1880,1885,1890,1895,1900,1905,1910,1915,1920,1925,1930,1935,1940,1945,1950,1955,1960,1965,1970,1975,1980,1985,1990,1995,2000,2005,2010,2015,2020], "format": "d", "labelExpr": "datum.value % 20 == 0 ? datum.label : ''", "tickSize": {"condition": {"test": "datum.value % 20 == 0", "value": 11}, "value": 6}}},
     "y": {"field": "hi", "type": "quantitative", "title": "Temperrature \u00a0(degrees \u00a0C)", "scale": {"domain": [-0.868, 0.858], "nice": false, "zero": false},
       "axis": {"titlePadding": 22, "values": [-0.8,-0.7,-0.6,-0.5,-0.4,-0.3,-0.2,-0.1,0,0.1,0.2,0.3,0.4,0.5,0.6,0.7,0.8], "labelExpr": "abs(round(datum.value*10)) % 2 == 0 ? format(datum.value, '.1f') : ''", "tickSize": {"condition": {"test": "abs(round(datum.value*10)) % 2 == 0", "value": 6}, "value": 3}}}}},
   {"mark": {"type": "line", "color": "#ff2222", "strokeWidth": 1.1}, "encoding": {"x": {"field": "year", "type": "quantitative"}, "y": {"field": "lo", "type": "quantitative", "title": "Temperrature \u00a0(degrees \u00a0C)"}}},
   {"mark": {"type": "line", "color": "#2f4bff", "strokeWidth": 1.1}, "encoding": {"x": {"field": "year", "type": "quantitative"}, "y": {"field": "obs", "type": "quantitative", "title": "Temperrature \u00a0(degrees \u00a0C)"}}},
   {"mark": {"type": "line", "color": "#111111", "strokeWidth": 2.2}, "encoding": {"x": {"field": "year", "type": "quantitative"}, "y": {"field": "fit", "type": "quantitative", "title": "Temperrature \u00a0(degrees \u00a0C)"}}},
   {"mark": {"type": "rule", "color": "#777777", "strokeWidth": 1.8}, "encoding": {"y": {"datum": 0}}}
  ]},
 {"width": 452, "height": 290,
  "title": {"text": "(d) Trends comparison of 3 regions", "dx": -39, "offset": 4},
  "layer": [
   {"data": {"name": "a"}, "mark": {"type": "line", "strokeWidth": 1.4},
    "encoding": {
     "x": {"field": "year", "type": "quantitative", "title": "YEAR", "scale": {"domain": [1858.0, 2021.7], "nice": false, "zero": false},
       "axis": {"values": [1860,1865,1870,1875,1880,1885,1890,1895,1900,1905,1910,1915,1920,1925,1930,1935,1940,1945,1950,1955,1960,1965,1970,1975,1980,1985,1990,1995,2000,2005,2010,2015,2020], "format": "d", "labelExpr": "datum.value % 20 == 0 ? datum.label : ''", "tickSize": {"condition": {"test": "datum.value % 20 == 0", "value": 11}, "value": 6}}},
     "y": {"field": "fit", "type": "quantitative", "title": "Temperrature \u00a0(degrees \u00a0C)", "scale": {"domain": [-0.645, 0.637], "nice": false, "zero": false},
       "axis": {"values": [-0.6,-0.5,-0.4,-0.3,-0.2,-0.1,0,0.1,0.2,0.3,0.4,0.5,0.6], "labelExpr": "abs(round(datum.value*10)) % 2 == 0 ? format(datum.value, '.1f') : ''", "tickSize": {"condition": {"test": "abs(round(datum.value*10)) % 2 == 0", "value": 6}, "value": 3}}},
     "color": {"datum": "Global", "type": "nominal",
       "scale": {"domain": ["Global", "Northern Hemisphere", "Northeast Asia"], "range": ["#3348ff", "#ff2a2a", "#333333"]},
       "legend": {"orient": "none", "legendX": 614, "legendY": 460, "title": null, "symbolType": "M-5,0H5", "symbolSize": 100, "symbolStrokeWidth": 1.3, "symbolOffset": 20, "labelOffset": 27, "labelLimit": 500, "labelFont": "DejaVu Sans Mono", "labelFontSize": 17, "labelColor": "#111", "rowPadding": 5, "padding": 0}}}},
   {"data": {"name": "b"}, "mark": {"type": "line", "strokeWidth": 1.4},
    "encoding": {"x": {"field": "year", "type": "quantitative"}, "y": {"field": "fit", "type": "quantitative", "title": "Temperrature \u00a0(degrees \u00a0C)"}, "color": {"datum": "Northern Hemisphere", "type": "nominal"}}},
   {"data": {"name": "c"}, "mark": {"type": "line", "strokeWidth": 1.4},
    "encoding": {"x": {"field": "year", "type": "quantitative"}, "y": {"field": "fit", "type": "quantitative", "title": "Temperrature \u00a0(degrees \u00a0C)"}, "color": {"datum": "Northeast Asia", "type": "nominal"}}},
   {"mark": {"type": "rule", "color": "#333333", "strokeWidth": 1.5}, "encoding": {"y": {"datum": 0}}}
  ]}
]
}
